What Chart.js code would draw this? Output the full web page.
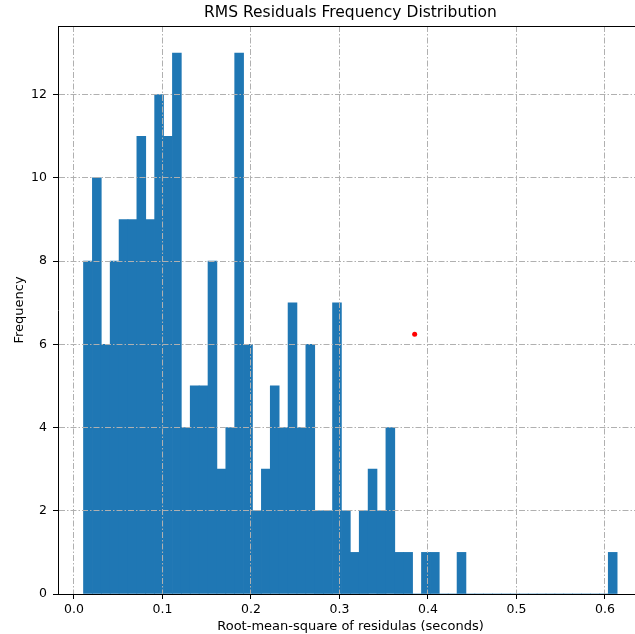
<!DOCTYPE html>
<html>
<head>
<meta charset="utf-8">
<script src="https://cdn.jsdelivr.net/npm/chart.js@4/dist/chart.umd.min.js"></script>
<style>
  html, body { margin: 0; padding: 0; background: #ffffff; overflow: hidden; width: 635px; height: 634px; }
  #wrap { width: 635px; height: 634px; overflow: hidden; position: relative; }
  canvas { display: block; }
</style>
</head>
<body>
<div id="wrap"><canvas id="c" width="643" height="634"></canvas></div>
<script>
// Histogram counts per bin (60 equal-width bins)
const counts = [8, 10, 6, 8, 9, 9, 11, 9, 12, 11, 13, 4, 5, 5, 8, 3, 4, 13, 6, 2,
                3, 5, 4, 7, 4, 6, 2, 2, 7, 2, 1, 2, 3, 2, 4, 1, 1, 0, 1, 1,
                0, 0, 1, 0, 0, 0, 0, 0, 0, 0, 0, 0, 0, 0, 0, 0, 0, 0, 0, 1];
const binStart = 0.0108;   // left edge of first bin (seconds)
const binWidth = 0.01005;  // bin width (seconds)
// Single highlighted point
const markerPoint = [{ x: 0.385, y: 6.24 }];
// Axis limits and tick steps (axes run slightly past the right edge of the picture)
const xLimits = [-0.018, 0.643];
const yLimits = [0, 13.65];
const xTickStep = 0.1;
const yTickStep = 2;
const titleText = 'RMS Residuals Frequency Distribution';
const xLabel = 'Root-mean-square of residulas (seconds)';
const yLabel = 'Frequency';

const barData = counts.map((c, k) => ({ x: binStart + (k + 0.5) * binWidth, y: c }));

const FONT = 'DejaVu Sans, sans-serif';
const gridDash = [6, 2, 1.5, 2];

function noSidePadding(s) {
  s.paddingLeft = 0;
  s.paddingRight = 0;
}

new Chart(document.getElementById('c'), {
  type: 'bar',
  data: {
    datasets: [
      {
        type: 'scatter',
        data: markerPoint,
        xAxisID: 'x',
        yAxisID: 'y',
        pointRadius: 2.5,
        pointHoverRadius: 2.5,
        pointBackgroundColor: '#ff0000',
        pointBorderWidth: 0,
        backgroundColor: '#ff0000',
        borderWidth: 0,
        order: 0
      },
      {
        type: 'bar',
        data: barData,
        xAxisID: 'x',
        yAxisID: 'y',
        backgroundColor: '#1f77b4',
        borderWidth: 0,
        barPercentage: 1.0,
        categoryPercentage: 1.0,
        order: 1
      }
    ]
  },
  options: {
    responsive: false,
    animation: false,
    devicePixelRatio: 1,
    layout: { padding: 0, autoPadding: false },
    plugins: {
      legend: { display: false },
      tooltip: { enabled: false },
      title: { display: false }
    },
    scales: {
      x: {
        type: 'linear',
        position: 'bottom',
        min: xLimits[0],
        max: xLimits[1],
        offset: false,
        ticks: {
          stepSize: xTickStep,
          includeBounds: false,
          autoSkip: false,
          maxRotation: 0,
          padding: 3,
          color: '#000000',
          font: { family: FONT, size: 12.5 },
          callback: (v) => Number(v).toFixed(1)
        },
        grid: {
          color: '#b0b0b0',
          lineWidth: 1,
          drawTicks: true,
          tickLength: 5,
          tickColor: '#000000',
          tickWidth: 1,
          offset: false,
          z: 1
        },
        border: { display: true, color: '#000000', width: 1, dash: gridDash, z: 2 },
        title: {
          display: true,
          text: xLabel,
          color: '#000000',
          font: { family: FONT, size: 13 },
          padding: { top: 0, bottom: 0 }
        },
        afterFit: (s) => { s.height = 40; noSidePadding(s); }
      },
      x2: {
        type: 'linear',
        axis: 'x',
        position: 'top',
        min: xLimits[0],
        max: xLimits[1],
        offset: false,
        ticks: { display: false },
        grid: { display: false, drawTicks: false },
        border: { display: true, color: '#000000', width: 1, z: 2 },
        title: {
          display: true,
          text: titleText,
          color: '#000000',
          font: { family: FONT, size: 15.5 },
          padding: { top: 4, bottom: 0 }
        },
        afterFit: (s) => { s.height = 26; noSidePadding(s); }
      },
      y: {
        type: 'linear',
        position: 'left',
        min: yLimits[0],
        max: yLimits[1],
        ticks: {
          stepSize: yTickStep,
          includeBounds: false,
          padding: 6,
          color: '#000000',
          font: { family: FONT, size: 12.5 }
        },
        grid: {
          color: '#b0b0b0',
          lineWidth: 1,
          drawTicks: true,
          tickLength: 5,
          tickColor: '#000000',
          tickWidth: 1,
          z: 1
        },
        border: { display: true, color: '#000000', width: 1, dash: gridDash, z: 2 },
        title: {
          display: true,
          text: yLabel,
          color: '#000000',
          font: { family: FONT, size: 13 },
          padding: { top: 12, bottom: 0 }
        },
        afterFit: (s) => { s.width = 58; s.paddingTop = 0; s.paddingBottom = 0; }
      }
    }
  }
});
</script>
</body>
</html>
